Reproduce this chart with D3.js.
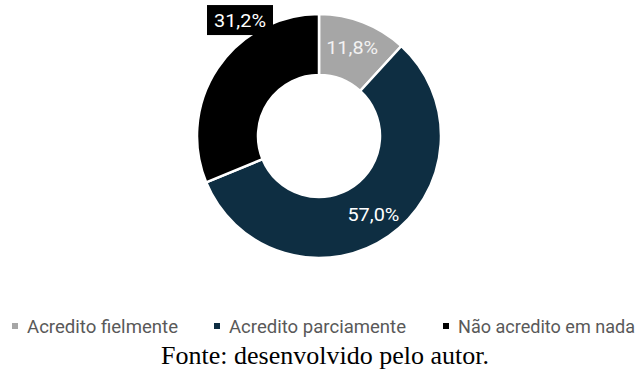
<!DOCTYPE html>
<html>
<head>
<meta charset="utf-8">
<script src="https://cdn.jsdelivr.net/npm/d3@7"></script>
<style>
  body { margin: 0; background: #fff; }
  svg { display: block; }
</style>
</head>
<body>
<svg id="chart"></svg>
<script>
let width = 639;
let height = 369;

// data
let categories = ['Acredito fielmente', 'Acredito parciamente', 'Não acredito em nada'];
let values = [11.8, 57.0, 31.2];
let labels = ['11,8%', '57,0%', '31,2%'];
let colors = ['#a6a6a6', '#0e2e42', '#000000'];

let cx = 319, cy = 136;
let outer = 122, inner = 61;

let svg = d3.select('#chart')
  .attr('width', width)
  .attr('height', height);

let pie = d3.pie().sort(null).value((d) => d.value);
let arcs = pie(values.map((v, i) => ({ value: v, i })));

let arc = d3.arc().innerRadius(inner).outerRadius(outer);

let g = svg.append('g').attr('transform', `translate(${cx},${cy})`);

g.selectAll('path')
  .data(arcs)
  .enter()
  .append('path')
  .attr('d', arc)
  .attr('fill', (d) => colors[d.data.i])
  .attr('stroke', '#fff')
  .attr('stroke-width', 2.5);

// labels, the last one was dragged out of the ring into a box
let offsets = [[0, -4], [2, 3], [-3, -65]];
let labelFont = 'Roboto, "DejaVu Sans Condensed", sans-serif';

arcs.forEach((d, i) => {
  let c = arc.centroid(d);
  let x = c[0] + offsets[i][0];
  let y = c[1] + offsets[i][1];
  let lg = g.append('g').attr('transform', `translate(${x},${y})`);
  if (i === 2) {
    lg.append('rect')
      .attr('x', -33)
      .attr('y', -15)
      .attr('width', 66)
      .attr('height', 30)
      .attr('fill', '#000');
  }
  lg.append('text')
    .text(labels[i])
    .attr('text-anchor', 'middle')
    .attr('dy', '0.36em')
    .attr('textLength', 52)
    .attr('lengthAdjust', 'spacingAndGlyphs')
    .attr('fill', i === 0 ? '#f2f2f2' : '#fff')
    .style('font-family', labelFont)
    .style('font-size', '19px');
});

// legend
let legendX = [12, 214, 443];
let legendW = [151, 177, 177];
let legend = svg.append('g');

categories.forEach((c, i) => {
  let lg = legend.append('g').attr('transform', `translate(${legendX[i]},333)`);
  lg.append('rect')
    .attr('x', 0)
    .attr('y', -10)
    .attr('width', 6)
    .attr('height', 6)
    .attr('fill', colors[i]);
  lg.append('text')
    .text(c)
    .attr('x', 15)
    .attr('textLength', legendW[i])
    .attr('lengthAdjust', 'spacingAndGlyphs')
    .attr('fill', '#595959')
    .style('font-family', labelFont)
    .style('font-size', '18px');
});

svg.append('text')
  .text('Fonte: desenvolvido pelo autor.')
  .attr('x', 325)
  .attr('y', 364)
  .attr('text-anchor', 'middle')
  .attr('fill', '#000')
  .style('font-family', '"Liberation Serif", "Times New Roman", serif')
  .style('font-size', '26px');
</script>
</body>
</html>
